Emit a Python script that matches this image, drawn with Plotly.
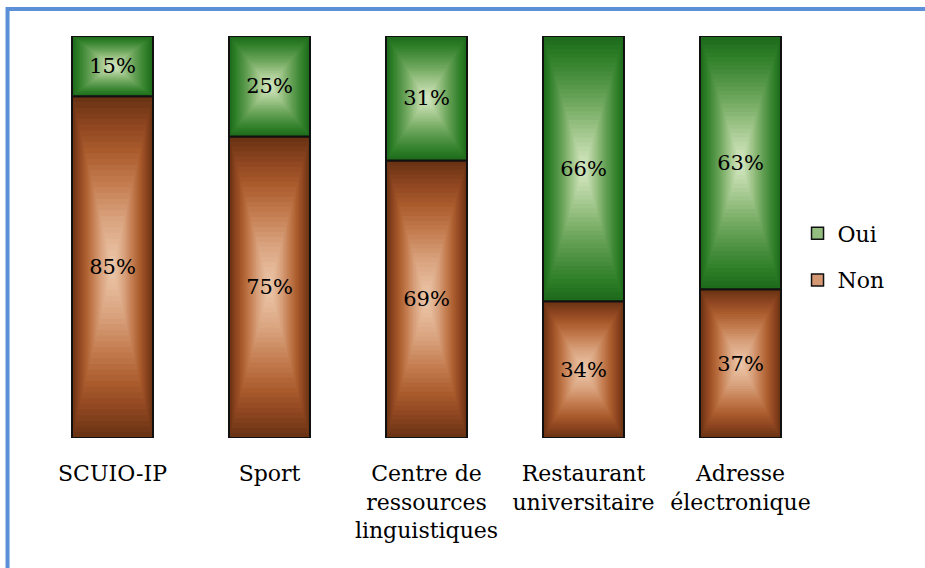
import plotly.graph_objects as go

categories = ["SCUIO-IP", "Sport", "Centre de<br>ressources<br>linguistiques",
              "Restaurant<br>universitaire", "Adresse<br>électronique"]
oui = [15, 25, 31, 66, 63]
non = [85, 75, 69, 34, 37]

W, H = 925, 568
L, R, T, B = 33.5, 105.5, 36, 130
PW, PH = W - L - R, H - T - B
FONT = "DejaVu Serif"
BAR_W = 0.516
N_LAYERS = 30

green_stops = [(1.0, "#1D6B1B"), (0.85, "#2F7F28"), (0.7, "#4A9040"), (0.5, "#72A960"),
               (0.3, "#9FC58A"), (0.12, "#C5DDB0"), (0.0, "#D6E7C6")]
brown_stops = [(1.0, "#6A3314"), (0.85, "#8E4520"), (0.7, "#A95B2C"), (0.5, "#C47D50"),
               (0.3, "#D9A27E"), (0.12, "#E6BB9B"), (0.0, "#ECC8AD")]


def hex2rgb(h):
    h = h.lstrip("#")
    return tuple(int(h[i:i + 2], 16) for i in (0, 2, 4))


def color_at(stops, s):
    for (s1, c1), (s0, c0) in zip(stops[:-1], stops[1:]):
        if s0 <= s <= s1:
            t = (s - s0) / (s1 - s0) if s1 > s0 else 0
            a, b = hex2rgb(c0), hex2rgb(c1)
            return "rgb(%d,%d,%d)" % tuple(round(a[i] + (b[i] - a[i]) * t) for i in range(3))
    return stops[-1][1]


fig = go.Figure()

series = [
    ("Non", non, [0] * len(non), brown_stops, 2),
    ("Oui", oui, non, green_stops, 1),
]

for name, vals, bases, stops, rank in series:
    for k in range(N_LAYERS):
        s = 1 - k / N_LAYERS
        fig.add_trace(go.Bar(
            x=categories,
            y=[v * s for v in vals],
            base=[b + v * (1 - s) / 2 for b, v in zip(bases, vals)],
            width=BAR_W * s,
            marker=dict(color=color_at(stops, s), line=dict(width=0)),
            name=name,
            legendgroup=name,
            showlegend=False,
            hoverinfo="skip",
        ))
    fig.add_trace(go.Bar(
        x=categories,
        y=vals,
        base=bases,
        width=BAR_W,
        marker=dict(color="rgba(0,0,0,0)", line=dict(color="#111111", width=2)),
        text=[f"{v}%" for v in vals],
        textposition="inside",
        insidetextanchor="middle",
        textangle=0,
        constraintext="none",
        textfont=dict(family=FONT, size=21, color="#000000"),
        name=name,
        legendgroup=name,
        showlegend=False,
        hoverinfo="skip",
    ))
    fig.add_trace(go.Bar(
        x=[None], y=[None],
        marker=dict(color=color_at(stops, 0.35), line=dict(color="#111111", width=1.5)),
        name=name,
        legendgroup=name,
        legendrank=rank,
        showlegend=True,
        hoverinfo="skip",
    ))


def px_x(p):
    return (p - L) / PW


def px_y(p):
    return (H - B - p) / PH


fig.update_layout(
    width=W, height=H,
    margin=dict(l=L, r=R, t=T, b=B, pad=0),
    barmode="overlay",
    paper_bgcolor="white",
    plot_bgcolor="white",
    font=dict(family=FONT, size=22, color="#000000"),
    showlegend=True,
    legend=dict(
        x=px_x(798), xanchor="left",
        y=px_y(257), yanchor="middle",
        traceorder="grouped",
        tracegroupgap=15,
        font=dict(family=FONT, size=22, color="#000000"),
        bgcolor="rgba(0,0,0,0)",
        itemwidth=30,
    ),
    xaxis=dict(
        range=[-0.5, 4.5],
        showgrid=False, zeroline=False, showline=False,
        ticks="", ticklabelstandoff=20,
        tickfont=dict(family=FONT, size=22, color="#000000"),
        fixedrange=True,
    ),
    yaxis=dict(
        range=[0, 100],
        visible=False,
        fixedrange=True,
    ),
    shapes=[dict(
        type="rect", xref="paper", yref="paper",
        x0=px_x(7), x1=px_x(945), y0=px_y(590), y1=px_y(9),
        line=dict(color="#5B8FD8", width=4),
        fillcolor="rgba(0,0,0,0)",
        layer="below",
    )],
)

fig.write_html(
    "out.html",
    config={"displayModeBar": False},
    post_script="document.body.style.margin='0';document.body.style.overflow='hidden';",
)
